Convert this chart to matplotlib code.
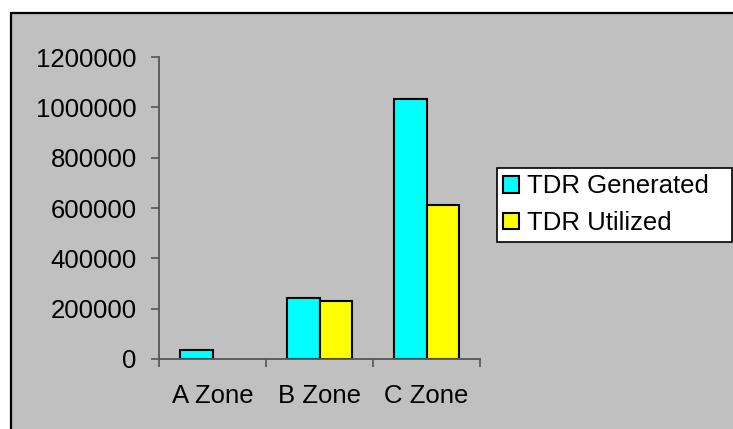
import matplotlib.pyplot as plt
import numpy as np
from matplotlib.patches import Rectangle, Patch

zones = ['A Zone', 'B Zone', 'C Zone']
tdr_generated = [36000, 243000, 1032000]
tdr_utilized = [np.nan, 232000, 611000]  # no utilisation recorded for A Zone
yticks = [0, 200000, 400000, 600000, 800000, 1000000, 1200000]

plt.rcParams['font.family'] = ['Liberation Sans', 'DejaVu Sans']
fs = 18.5
axis_col = '#555555'

fig = plt.figure(figsize=(7.33, 4.29), dpi=100)
fig.patch.set_facecolor('white')

# grey chart area with black frame, behind everything
frame = Rectangle((11 / 733, -0.01), 1.0, 1 - 13 / 429 + 0.01,
                  transform=fig.transFigure, facecolor='#C0C0C0',
                  edgecolor='black', linewidth=1.6, zorder=-10)
fig.patches.append(frame)

ax = fig.add_axes([159 / 733, 70 / 429, 321 / 733, 302 / 429])
ax.set_facecolor('none')
ax.set_zorder(1)

x = np.arange(len(zones))
w = 0.3
ax.bar(x - w / 2, tdr_generated, w, color='#00FFFF', edgecolor='black',
       linewidth=1.5, label='TDR Generated')
ax.bar(x + w / 2, tdr_utilized, w, color='#FFFF00', edgecolor='black',
       linewidth=1.5, label='TDR Utilized')

ax.set_xlim(-0.5, len(zones) - 0.5)
ax.set_ylim(0, 1200000)
ax.set_yticks(yticks)
ax.set_yticklabels([str(v) for v in yticks], fontsize=fs)

# tick marks between categories, labels centred under them
ax.set_xticks(np.arange(-0.5, len(zones), 1.0))
ax.set_xticklabels([])
ax.set_xticks(x, minor=True)
ax.set_xticklabels(zones, minor=True, fontsize=fs)
ax.tick_params(axis='x', which='minor', length=0, pad=18)
ax.tick_params(axis='x', which='major', length=6, width=1.2, color=axis_col)
ax.tick_params(axis='y', length=6, width=1.2, color=axis_col, pad=10)

for side in ['top', 'right']:
    ax.spines[side].set_visible(False)
for side in ['left', 'bottom']:
    ax.spines[side].set_color(axis_col)
    ax.spines[side].set_linewidth(1.3)

handles = [Patch(facecolor='#00FFFF', edgecolor='black', linewidth=1.5),
           Patch(facecolor='#FFFF00', edgecolor='black', linewidth=1.5)]
leg = fig.legend(handles, ['TDR Generated', 'TDR Utilized'],
                 loc='upper left',
                 bbox_to_anchor=(497 / 733, 1 - 242 / 429, 235 / 733, 74 / 429),
                 mode='expand',
                 fontsize=fs, frameon=True, fancybox=False, shadow=False,
                 framealpha=1, handlelength=0.6, handleheight=0.6,
                 handletextpad=0.3, labelspacing=0.5, borderpad=0.25,
                 borderaxespad=0)
leg.get_frame().set_edgecolor('black')
leg.get_frame().set_linewidth(1.2)
leg.get_frame().set_facecolor('white')

fig.savefig('out.png', dpi=100)
